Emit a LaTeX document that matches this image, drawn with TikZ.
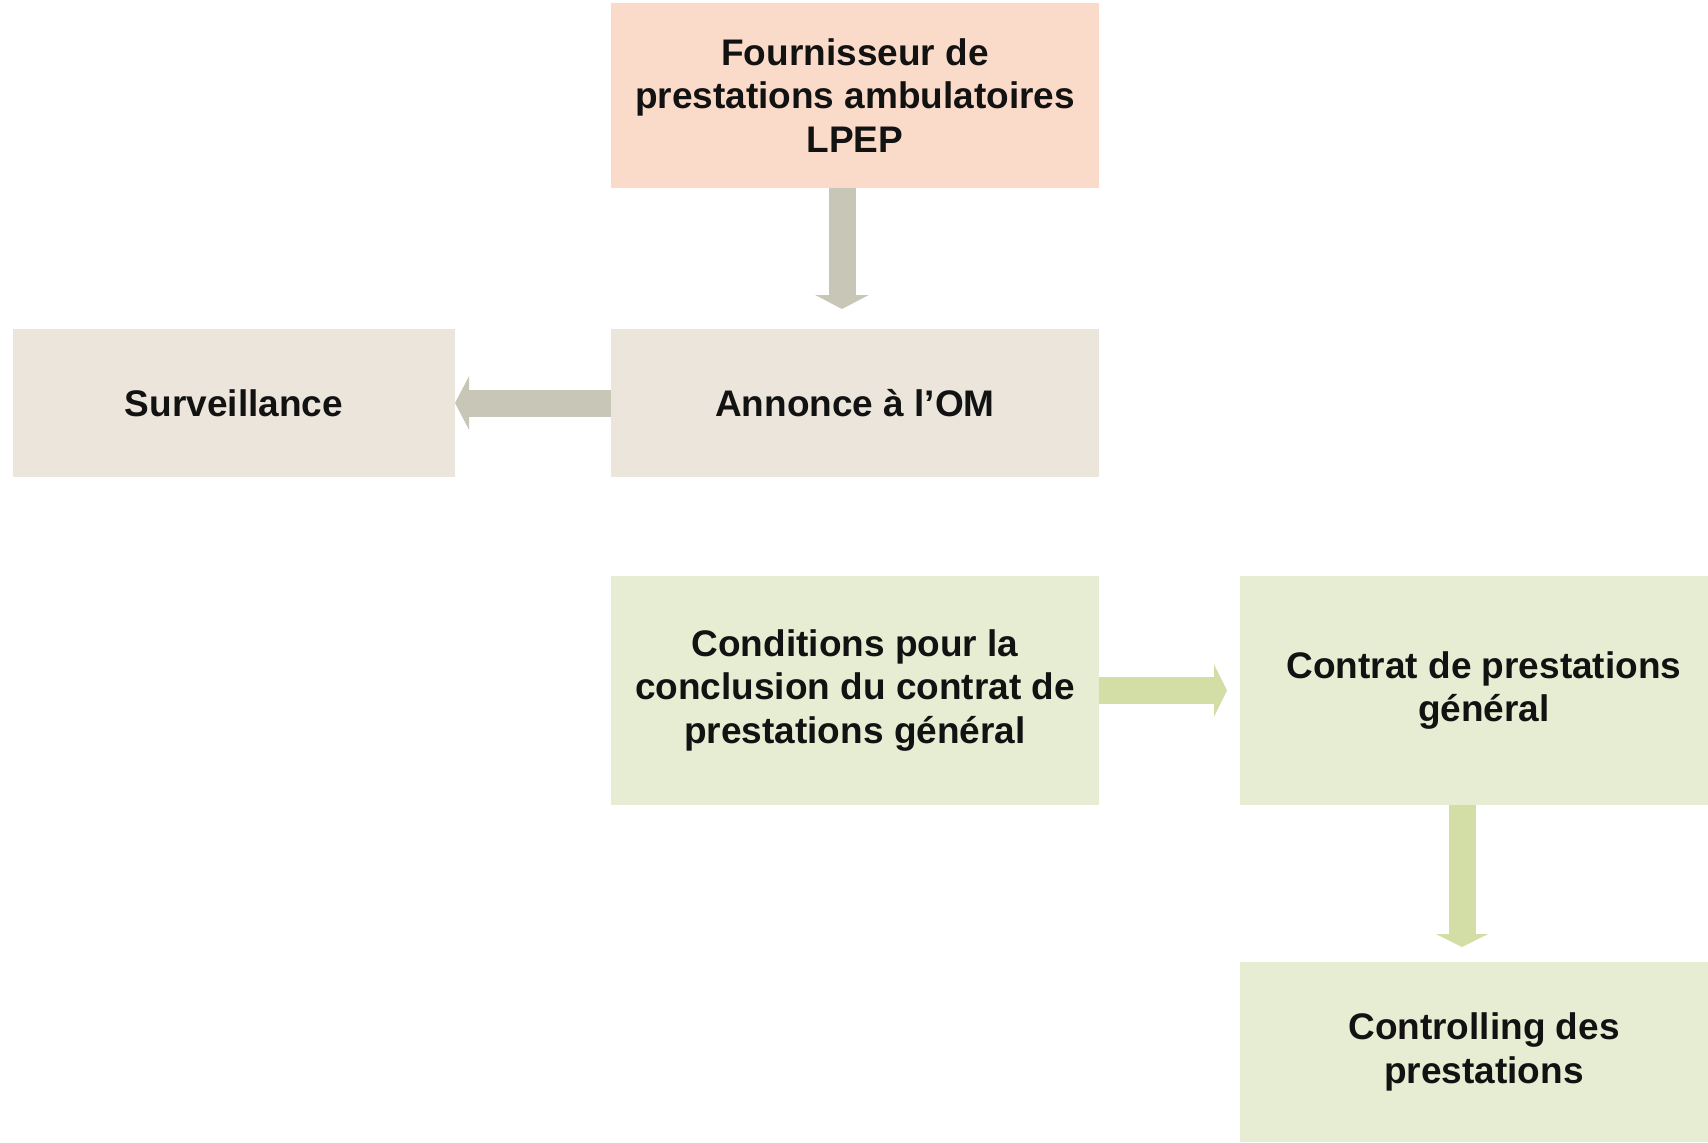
\documentclass[tikz,border=0pt]{standalone}
\usepackage{fontspec}
\setmainfont{Liberation Sans}
\usetikzlibrary{arrows.meta}
\definecolor{peach}{RGB}{250,218,200}
\definecolor{beige}{RGB}{235,229,219}
\definecolor{greyarr}{RGB}{200,198,183}
\definecolor{greenbox}{RGB}{231,237,211}
\definecolor{greenarr}{RGB}{210,222,165}
\tikzset{
  box/.style={rectangle, inner sep=0pt, outer sep=0pt, align=center,
    font=\fontsize{37}{43.6}\selectfont\bfseries, text=black!93},
  peachbox/.style={box, fill=peach},
  beigebox/.style={box, fill=beige},
  greenbx/.style={box, fill=greenbox},
  grayarrow/.style={draw=greyarr, line width=27pt,
    -{Triangle[width=53pt,length=14pt,fill=greyarr]}},
  greenarrow/.style={draw=greenarr, line width=27pt,
    -{Triangle[width=52pt,length=13pt,fill=greenarr]}}
}
\begin{document}
\begin{tikzpicture}[x=1pt,y=-1pt]
\useasboundingbox (0,0) rectangle (1708,1143);
\fill[white] (0,0) rectangle (1708,1143);
\node[peachbox, minimum width=488pt, minimum height=185pt] (top) at (855,95.5)
  {Fournisseur de\\prestations ambulatoires\\LPEP};
\node[beigebox, minimum width=442pt, minimum height=148pt] (surv) at (234,403)
  {Surveillance};
\node[beigebox, minimum width=488pt, minimum height=148pt] (annonce) at (855,403)
  {Annonce à l’OM};
\node[greenbx, minimum width=488pt, minimum height=229pt] (cond) at (855,690.5)
  {Conditions pour la\\conclusion du contrat de\\prestations général};
\node[greenbx, minimum width=488pt, minimum height=229pt] (contrat) at (1484,690.5)
  {Contrat de prestations\\général};
\node[greenbx, minimum width=488pt, minimum height=180pt] (ctrl) at (1484,1052)
  {Controlling des\\prestations};
\draw[grayarrow] ([xshift=-13pt]top.south) -- ([xshift=-13pt,yshift=20pt]annonce.north);
\draw[grayarrow] (annonce.west) -- (surv.east);
\draw[greenarrow] (cond.east) -- ([xshift=-13pt]contrat.west);
\draw[greenarrow] ([xshift=-22pt]contrat.south) -- ([xshift=-22pt,yshift=15pt]ctrl.north);
\end{tikzpicture}
\end{document}
